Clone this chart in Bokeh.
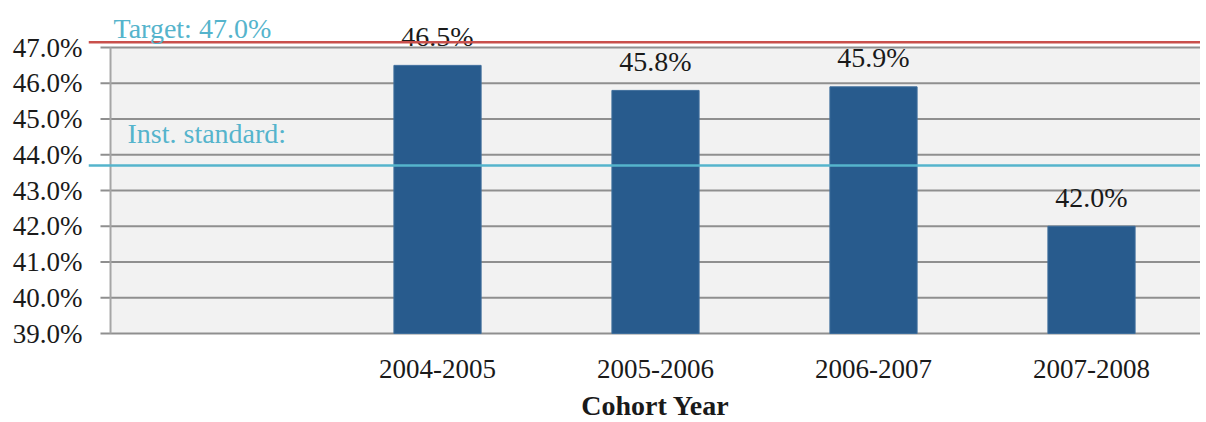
from bokeh.plotting import figure
from bokeh.models import Range1d, FixedTicker, PrintfTickFormatter, Span, Label, ColumnDataSource
from bokeh.embed import file_html
from bokeh.resources import INLINE
from bokeh.core.properties import value

# ---- data ----
categories = ["", "2004-2005", "2005-2006", "2006-2007", "2007-2008"]
rates = [None, 46.5, 45.8, 45.9, 42.0]
rate_labels = ["", "46.5%", "45.8%", "45.9%", "42.0%"]
y_ticks = [39, 40, 41, 42, 43, 44, 45, 46, 47]
target = 47.15
target_text = "Target: 47.0%"
inst_standard = 43.7
inst_text = "Inst. standard:"
x_title = "Cohort Year"

SERIF = "Liberation Serif"
BAR = "#285B8D"
GRID = "#8F8F8F"
RED = "#C9504C"
CYAN = "#55B4CC"
INK = "#1A1A1A"

ymin, ymax = y_ticks[0], y_ticks[-1]
n = len(categories)

p = figure(width=1200, height=422, output_backend="svg", toolbar_location=None,
           x_range=Range1d(-0.601, n - 0.5), y_range=Range1d(36.511, 48.315),
           min_border_left=88, min_border_right=0, min_border_top=0, min_border_bottom=0)
p.outline_line_color = None
p.background_fill_color = "white"
p.border_fill_color = "white"
p.xgrid.visible = False
p.ygrid.visible = False
p.xaxis.visible = False

# plot area background
p.quad(left=[-0.5], right=[n - 0.5], bottom=[ymin], top=[ymax],
       fill_color="#F2F2F2", line_color=None)

# gridlines (with small outside ticks)
p.segment(x0=[-0.546] * len(y_ticks), x1=[n - 0.5] * len(y_ticks), y0=y_ticks, y1=y_ticks,
          line_color=GRID, line_width=2)
# left border / right border
p.segment(x0=[-0.5], x1=[-0.5], y0=[ymin], y1=[ymax], line_color="#A6A6A6", line_width=2)
p.segment(x0=[n - 0.5], x1=[n - 0.5], y0=[ymin], y1=[ymax], line_color="#D0D0D0", line_width=1)

# bars
idx = [i for i in range(n) if rates[i] is not None]
src = ColumnDataSource(dict(x=idx, top=[rates[i] for i in idx], lab=[rate_labels[i] for i in idx]))
p.vbar(x="x", top="top", bottom=ymin, width=0.4, source=src,
       fill_color=BAR, line_color="#3F6E9C", line_width=1)
p.text(x="x", y="top", text="lab", source=src, text_align="center", text_baseline="alphabetic",
       y_offset=-29, text_font=value(SERIF), text_font_size="28px", text_color=INK)

# category labels and axis title (below the plot area)
p.text(x=list(range(n)), y=[ymin] * n, text=categories, text_align="center",
       text_baseline="middle", y_offset=35, text_font=value(SERIF),
       text_font_size="27px", text_color=INK)
p.text(x=[(n - 1) / 2], y=[ymin], text=[x_title], text_align="center",
       text_baseline="middle", y_offset=72, text_font=value(SERIF),
       text_font_style="bold", text_font_size="28px", text_color=INK)

# reference lines
p.add_layout(Span(location=target, dimension="width", line_color=RED, line_width=2.5))
p.add_layout(Span(location=inst_standard, dimension="width", line_color=CYAN, line_width=2.5))
p.add_layout(Label(x=-0.5, y=target, text=target_text, x_offset=3, y_offset=14,
                   text_font=SERIF, text_font_size="28px", text_color=CYAN,
                   text_baseline="alphabetic"))
p.add_layout(Label(x=-0.5, y=inst_standard, text=inst_text, x_offset=17, y_offset=32,
                   text_font=SERIF, text_font_size="28px", text_color=CYAN,
                   text_baseline="alphabetic"))

# y axis
p.yaxis.ticker = FixedTicker(ticks=y_ticks)
p.yaxis.formatter = PrintfTickFormatter(format="%.1f%%")
p.yaxis.axis_line_color = None
p.yaxis.major_tick_line_color = None
p.yaxis.minor_tick_line_color = None
p.yaxis.major_label_standoff = 0
p.yaxis.major_label_text_font = SERIF
p.yaxis.major_label_text_font_size = "27px"
p.yaxis.major_label_text_color = INK

open("out.html", "w").write(file_html(p, INLINE))
